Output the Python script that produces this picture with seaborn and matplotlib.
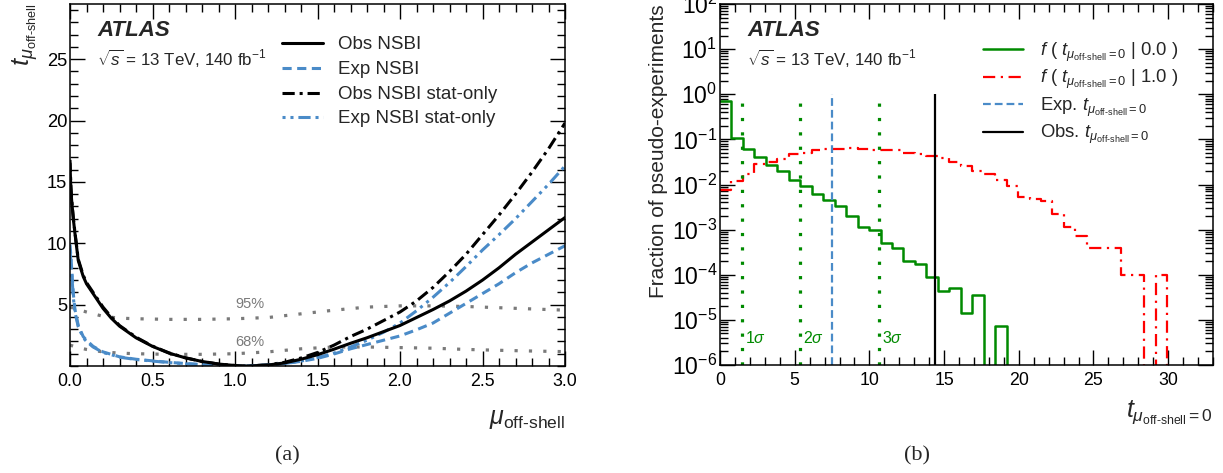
import numpy as np
import matplotlib
matplotlib.use("Agg")
import matplotlib.pyplot as plt
from matplotlib.lines import Line2D
from matplotlib.ticker import (MultipleLocator, FixedLocator, LogLocator,
                               NullFormatter, FormatStrFormatter)
import seaborn as sns

# ---------------- data: profile likelihood scan (a) ----------------
mu = [0.0, 0.005, 0.01, 0.02, 0.03, 0.05, 0.08, 0.1, 0.14, 0.2, 0.25, 0.3, 0.4,
      0.5, 0.6, 0.7, 0.8, 0.9, 1.0, 1.05, 1.1, 1.2, 1.3, 1.4, 1.5, 1.6, 1.7, 1.8,
      1.9, 2.0, 2.1, 2.2, 2.3, 2.4, 2.5, 2.6, 2.7, 2.8, 2.9, 3.0]
t_obs = [16.5, 14.5, 13.5, 12.0, 10.8, 8.6, 7.3, 6.7, 5.9, 4.7, 3.9, 3.25, 2.3,
         1.6, 1.05, 0.66, 0.37, 0.16, 0.04, 0.0, 0.01, 0.08, 0.25, 0.55, 0.92, 1.37,
         1.85, 2.3, 2.8, 3.3, 3.95, 4.6, 5.3, 6.1, 7.0, 8.0, 9.1, 10.1, 11.1, 12.1]
t_exp = [9.9, 9.0, 8.0, 5.9, 4.6, 3.3, 2.4, 2.1, 1.6, 1.15, 0.95, 0.75, 0.55,
         0.42, 0.3, 0.2, 0.12, 0.05, 0.0, 0.0, 0.02, 0.08, 0.2, 0.38, 0.62, 0.98,
         1.4, 1.75, 2.1, 2.45, 2.95, 3.5, 4.3, 5.1, 5.9, 6.7, 7.6, 8.4, 9.1, 9.8]
t_obs_stat = [16.8, 14.8, 13.6, 12.1, 10.9, 8.7, 7.4, 6.8, 6.0, 4.8, 4.0, 3.3, 2.35,
              1.62, 1.07, 0.67, 0.37, 0.16, 0.04, 0.0, 0.02, 0.1, 0.3, 0.65, 1.1, 1.7,
              2.4, 3.0, 3.7, 4.4, 5.3, 6.4, 7.7, 9.1, 10.7, 12.3, 14.0, 15.8, 17.7, 19.8]
t_exp_stat = [9.5, 8.6, 7.6, 5.6, 4.4, 3.2, 2.3, 2.0, 1.55, 1.1, 0.92, 0.72, 0.53,
              0.4, 0.28, 0.18, 0.1, 0.04, 0.0, 0.0, 0.02, 0.08, 0.2, 0.4, 0.68, 1.05,
              1.55, 2.1, 2.75, 3.5, 4.5, 5.6, 6.8, 8.1, 9.45, 10.7, 12.0, 13.4, 14.8, 16.3]

mu_band = [0.0, 0.05, 0.1, 0.2, 0.3, 0.4, 0.6, 0.8, 1.0, 1.2, 1.4, 1.6, 1.8, 2.0,
           2.2, 2.4, 2.6, 2.8, 3.0]
t_95 = [4.8, 4.6, 4.4, 4.05, 3.9, 3.85, 3.8, 3.8, 3.85, 3.95, 4.25, 4.55, 4.8, 4.9,
        4.9, 4.85, 4.75, 4.65, 4.55]
t_68 = [1.7, 1.5, 1.35, 1.15, 1.05, 1.0, 0.95, 0.95, 1.0, 1.15, 1.4, 1.55, 1.55, 1.5,
        1.45, 1.35, 1.28, 1.22, 1.17]

# ---------------- data: pseudo-experiment distributions (b) ----------------
t_edges = [round(33.0 * i / 43, 6) for i in range(44)]
frac_mu0 = [0.71, 0.107, 0.062, 0.040, 0.027, 0.0195, 0.0129, 0.0095, 0.0062, 0.0045,
            0.0033, 0.0020, 0.00116, 0.00098, 0.0005, 0.00039, 0.00020, 0.00017,
            0.000089, 0.000044, 0.00005, 0.0000144, 0.0000355, 0.0, 0.0000072,
            0, 0, 0, 0, 0, 0, 0, 0, 0, 0, 0, 0, 0, 0, 0, 0, 0, 0]
frac_mu1 = [0.0077, 0.0117, 0.0173, 0.029, 0.031, 0.036, 0.048, 0.050, 0.057, 0.062,
            0.062, 0.064, 0.062, 0.059, 0.057, 0.057, 0.050, 0.048, 0.043, 0.038,
            0.031, 0.026, 0.020, 0.0173, 0.0123, 0.0091, 0.0052, 0.0048, 0.0044,
            0.0022, 0.00112, 0.00072, 0.0004, 0.0004, 0.0004, 0.0001, 0.0001, 0.0,
            0.0001, 0, 0, 0, 0]
sigma_t = [1.45, 5.34, 10.62]
sigma_names = ["1", "2", "3"]
t_exp_obs = 7.5
t_obs_val = 14.4

# ---------------- style ----------------
sns.set_theme(style="ticks")
plt.rcParams["font.family"] = ["Liberation Sans", "DejaVu Sans"]
plt.rcParams["mathtext.fontset"] = "custom"
plt.rcParams["mathtext.rm"] = "Liberation Sans"
plt.rcParams["mathtext.it"] = "Liberation Sans:italic"
plt.rcParams["mathtext.bf"] = "Liberation Sans:bold"
plt.rcParams["axes.linewidth"] = 1.1
plt.rcParams["axes.edgecolor"] = "black"

BLUE = "#4a8bc8"
GREEN = "#008a00"
RED = "#ff0000"
GRAY = "#7a7a7a"
OFFS = r"\text{off-shell}"

LS_DASH = (0, (3, 1.8))
LS_DASHDOT = (0, (4, 1.6, 1, 1.6))
LS_DASHDOTDOT = (0, (4, 1.6, 1, 1.6, 1, 1.6))
LS_DOT = (0, (1, 3.5))
LS_RED = (0, (5.5, 2.5, 1, 2.5))
LS_EXPB = (0, (3.5, 1.8))

W, H = 1223, 473
fig = plt.figure(figsize=(W / 100, H / 100), dpi=100)
axL = fig.add_axes([70 / W, 1 - 366 / H, 495 / W, 362 / H])
axR = fig.add_axes([720 / W, 1 - 365 / H, 493 / W, 361 / H])


def atlas_ticks(ax, ysize):
    ax.tick_params(which="both", direction="in", top=True, right=True, colors="black")
    ax.tick_params(axis="x", labelsize=12.8, pad=5)
    ax.tick_params(axis="y", labelsize=ysize, pad=2)
    ax.tick_params(which="major", length=11, width=1.0)
    ax.tick_params(which="minor", length=5.5, width=1.0)


def key(ax, entries, x0, x1, xt, y0, dy, off, fs):
    """Legend rows: a line sample and its label, evenly spaced in axes fractions."""
    for i, (style, label) in enumerate(entries):
        y = y0 - i * dy
        ax.add_line(Line2D([x0, x1], [y, y], transform=ax.transAxes, **style))
        ax.text(xt, y - off, label, transform=ax.transAxes, fontsize=fs,
                ha="left", va="baseline")


# ---------------- panel (a) ----------------
sns.lineplot(x=mu_band, y=t_95, ax=axL, color=GRAY, lw=2.3, linestyle=LS_DOT,
             estimator=None)
sns.lineplot(x=mu_band, y=t_68, ax=axL, color=GRAY, lw=2.3, linestyle=LS_DOT,
             estimator=None)
sns.lineplot(x=mu, y=t_exp_stat, ax=axL, color=BLUE, lw=2.2, linestyle=LS_DASHDOTDOT,
             estimator=None)
sns.lineplot(x=mu, y=t_obs_stat, ax=axL, color="black", lw=2.2, linestyle=LS_DASHDOT,
             estimator=None)
sns.lineplot(x=mu, y=t_exp, ax=axL, color=BLUE, lw=2.2, linestyle=LS_DASH,
             estimator=None)
sns.lineplot(x=mu, y=t_obs, ax=axL, color="black", lw=2.2, estimator=None)

axL.text(1.09, 5.05, "95%", color=GRAY, fontsize=10.5, ha="center", va="center")
axL.text(1.09, 1.95, "68%", color=GRAY, fontsize=10.5, ha="center", va="center")

axL.set_xlim(0, 3.0)
axL.set_ylim(0, 29.5)
axL.xaxis.set_major_locator(MultipleLocator(0.5))
axL.xaxis.set_minor_locator(MultipleLocator(0.1))
axL.yaxis.set_major_locator(FixedLocator([5, 10, 15, 20, 25]))
axL.yaxis.set_minor_locator(MultipleLocator(1))
axL.xaxis.set_major_formatter(FormatStrFormatter("%.1f"))
atlas_ticks(axL, 13.2)
axL.set_xlabel(r"$\mu_{" + OFFS + "}$", fontsize=18, loc="right", labelpad=12)
axL.set_ylabel(r"$t_{\mu_{" + OFFS + "}}$", fontsize=18.5, loc="top", labelpad=5)

axL.text(0.055, 0.955, "ATLAS", transform=axL.transAxes, fontsize=16,
         fontweight="bold", fontstyle="italic", va="top")
axL.text(0.055, 0.878, r"$\sqrt{s}$ = 13 TeV, 140 fb$^{-1}$",
         transform=axL.transAxes, fontsize=12.2, va="top")

key(axL,
    [(dict(color="black", lw=2.2), "Obs NSBI"),
     (dict(color=BLUE, lw=2.2, linestyle=LS_DASH), "Exp NSBI"),
     (dict(color="black", lw=2.2, linestyle=LS_DASHDOT), "Obs NSBI stat-only"),
     (dict(color=BLUE, lw=2.2, linestyle=(0, (1, 1.6, 1, 1.6, 4, 1.6))),
      "Exp NSBI stat-only")],
    x0=0.428, x1=0.511, xt=0.541, y0=0.8914, dy=0.0682, off=0.0166, fs=13.5)

# ---------------- panel (b) ----------------
t_centres = [0.5 * (a + b) for a, b in zip(t_edges[:-1], t_edges[1:])]
sns.histplot(x=t_centres, weights=frac_mu1, bins=t_edges, element="step",
             fill=False, color=RED, lw=1.6, linestyle=LS_RED, ax=axR)
sns.histplot(x=t_centres, weights=frac_mu0, bins=t_edges, element="step",
             fill=False, color=GREEN, lw=1.8, ax=axR)
axR.set_yscale("log")

axR.vlines(sigma_t, 1e-6, 1.0, colors=GREEN, lw=2.3, linestyles=[LS_DOT])
axR.vlines([t_exp_obs], 1e-6, 1.0, colors=BLUE, lw=1.6, linestyles=[LS_EXPB])
axR.vlines([t_obs_val], 1e-6, 1.0, colors="black", lw=1.6)
for xs, nm in zip(sigma_t, sigma_names):
    axR.text(xs + 0.2, 2.6e-6, nm + r"$\sigma$", color=GREEN, fontsize=11.5,
             ha="left", va="bottom")

axR.set_xlim(0, 33)
axR.set_ylim(1e-6, 100)
axR.xaxis.set_major_locator(MultipleLocator(5))
axR.xaxis.set_minor_locator(MultipleLocator(1))
axR.yaxis.set_major_locator(LogLocator(base=10, numticks=20))
axR.yaxis.set_minor_locator(LogLocator(base=10, subs=np.arange(2, 10), numticks=20))
axR.yaxis.set_minor_formatter(NullFormatter())
atlas_ticks(axR, 16.5)
axR.set_xlabel(r"$t_{\mu_{" + OFFS + "}=0}$", fontsize=18, loc="right", labelpad=7)
axR.set_ylabel("Fraction of pseudo-experiments", fontsize=15, loc="top", labelpad=3)

axR.text(0.055, 0.955, "ATLAS", transform=axR.transAxes, fontsize=16,
         fontweight="bold", fontstyle="italic", va="top")
axR.text(0.055, 0.878, r"$\sqrt{s}$ = 13 TeV, 140 fb$^{-1}$",
         transform=axR.transAxes, fontsize=12.2, va="top")

key(axR,
    [(dict(color=GREEN, lw=1.8), r"$f$ ( $t_{\mu_{" + OFFS + "}=0}$ | 0.0 )"),
     (dict(color=RED, lw=1.6, linestyle=LS_RED), r"$f$ ( $t_{\mu_{" + OFFS + "}=0}$ | 1.0 )"),
     (dict(color=BLUE, lw=1.6, linestyle=LS_EXPB), r"Exp. $t_{\mu_{" + OFFS + "}=0}$"),
     (dict(color="black", lw=1.6), r"Obs. $t_{\mu_{" + OFFS + "}=0}$")],
    x0=0.5335, x1=0.6146, xt=0.649, y0=0.8745, dy=0.0762, off=0.018, fs=13.3)

# ---------------- captions ----------------
fig.text(287 / W, 1 - 456 / H, "(a)", fontsize=16, family="Liberation Serif",
         ha="center", va="center")
fig.text(917 / W, 1 - 456 / H, "(b)", fontsize=16, family="Liberation Serif",
         ha="center", va="center")

fig.savefig("out.png", dpi=100)
